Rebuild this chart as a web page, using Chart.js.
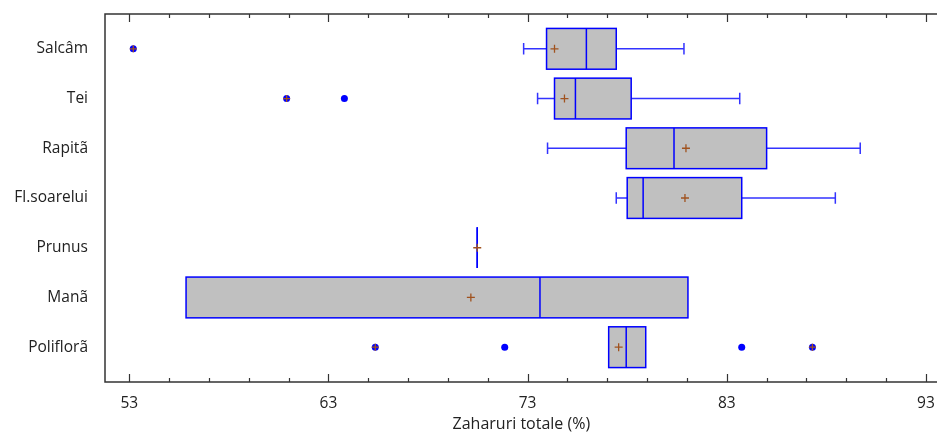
<!DOCTYPE html>
<html>
<head>
<meta charset="utf-8">
<script src="https://cdn.jsdelivr.net/npm/chart.js@4.4.1/dist/chart.umd.min.js"></script>
<style>
html,body{margin:0;padding:0;background:#fff;overflow:hidden;width:937px;height:432px;}
canvas{display:block;}
</style>
</head>
<body>
<canvas id="c" width="943" height="432"></canvas>
<script>
// ---- data ----
const categories = ['Salcâm', 'Tei', 'Rapitã', 'Fl.soarelui', 'Prunus', 'Manã', 'Poliflorã'];
const whiskerLow  = [72.8, 73.5, 74.0, 77.45, 70.47, 55.85, 77.07];
const q1          = [73.95, 74.35, 77.95, 78.0, 70.47, 55.85, 77.07];
const medians     = [75.95, 75.4, 80.35, 78.8, 70.47, 73.62, 77.95];
const q3          = [77.45, 78.2, 85.0, 83.75, 70.47, 81.05, 78.93];
const whiskerHigh = [80.85, 83.65, 89.7, 88.45, 70.47, 81.05, 78.93];
const means       = [74.35, 74.85, 80.95, 80.9, 70.47, 70.15, 77.57];
const outlierCat  = [0, 1, 1, 6, 6, 6, 6];
const outlierVal  = [53.2, 60.9, 63.8, 65.35, 71.85, 83.75, 87.3];
const outlierFar  = [true, true, false, true, false, false, true];
const xTickValues = [53,55,57,59,61,63,65,67,69,71,73,75,77,79,81,83,85,87,89,91,93];
const xMajorTicks = [53, 63, 73, 83, 93];
const xTitle = 'Zaharuri totale (%)';

const FONT = "'Open Sans', 'Noto Sans', sans-serif";
const TEXT = '#222222';
const BLUE = '#0000FF';
const BROWN = '#A0521E';

const meanPts = means.map((v, i) => ({x: v, y: i}));
const outPts = outlierVal.map((v, i) => ({x: v, y: outlierCat[i]}));
const farPts = outlierVal.map((v, i) => ({x: v, y: outlierCat[i]})).filter((p, i) => outlierFar[i]);

const boxPlugin = {
  id: 'boxes',
  beforeDatasetsDraw(chart) {
    const {ctx, scales: {x, y}} = chart;
    ctx.save();
    for (let i = 0; i < categories.length; i++) {
      const yc = y.getPixelForValue(i);
      const yt = y.getPixelForValue(i - 0.41);
      const yb = y.getPixelForValue(i + 0.41);
      const capT = y.getPixelForValue(i - 0.115);
      const capB = y.getPixelForValue(i + 0.115);
      const xl = x.getPixelForValue(q1[i]);
      const xr = x.getPixelForValue(q3[i]);
      const xm = x.getPixelForValue(medians[i]);
      const wl = x.getPixelForValue(whiskerLow[i]);
      const wh = x.getPixelForValue(whiskerHigh[i]);
      ctx.strokeStyle = '#3333FF';
      ctx.lineWidth = 1.5;
      if (wl < xl - 0.5) {
        ctx.beginPath();
        ctx.moveTo(wl, yc); ctx.lineTo(xl, yc);
        ctx.moveTo(wl, capT); ctx.lineTo(wl, capB);
        ctx.stroke();
      }
      if (wh > xr + 0.5) {
        ctx.beginPath();
        ctx.moveTo(xr, yc); ctx.lineTo(wh, yc);
        ctx.moveTo(wh, capT); ctx.lineTo(wh, capB);
        ctx.stroke();
      }
      ctx.fillStyle = '#C0C0C0';
      ctx.fillRect(xl, yt, xr - xl, yb - yt);
      ctx.strokeStyle = BLUE;
      ctx.lineWidth = 1.5;
      ctx.strokeRect(xl, yt, xr - xl, yb - yt);
      ctx.beginPath();
      ctx.moveTo(xm, yt); ctx.lineTo(xm, yb);
      ctx.stroke();
    }
    ctx.restore();
  },
  afterDraw(chart) {
    const {ctx, chartArea: a, scales: {x}} = chart;
    ctx.save();
    ctx.strokeStyle = '#333';
    ctx.lineWidth = 1.5;
    ctx.beginPath();
    ctx.moveTo(a.right + 10, a.top); ctx.lineTo(a.left, a.top);
    ctx.lineTo(a.left, a.bottom); ctx.lineTo(a.right + 10, a.bottom);
    ctx.stroke();
    ctx.lineWidth = 1.2;
    ctx.beginPath();
    xTickValues.forEach(v => {
      const px = Math.round(x.getPixelForValue(v)) + 0.5;
      const len = xMajorTicks.includes(v) ? 8 : 4;
      ctx.moveTo(px, a.top); ctx.lineTo(px, a.top + len);
      ctx.moveTo(px, a.bottom); ctx.lineTo(px, a.bottom - len);
    });
    ctx.stroke();
    ctx.restore();
  }
};

new Chart(document.getElementById('c'), {
  type: 'scatter',
  data: {
    datasets: [
      { label: 'far', data: farPts, pointStyle: 'cross', pointRadius: 3.5, borderColor: BROWN, borderWidth: 1.3, backgroundColor: BROWN },
      { label: 'mean', data: meanPts, pointStyle: 'cross', pointRadius: 4, borderColor: BROWN, borderWidth: 1.3, backgroundColor: BROWN },
      { label: 'outliers', data: outPts, pointStyle: 'circle', pointRadius: 3.5, borderWidth: 0, backgroundColor: BLUE, borderColor: BLUE }
    ]
  },
  options: {
    responsive: false,
    animation: false,
    layout: { padding: { top: 14, right: 0, left: 0, bottom: 0 } },
    plugins: { legend: { display: false }, tooltip: { enabled: false } },
    scales: {
      x: {
        type: 'linear',
        min: 51.78,
        max: 93.59,
        grid: { display: false, drawTicks: false },
        border: { display: false },
        afterBuildTicks: s => { s.ticks = xTickValues.map(v => ({value: v})); },
        afterFit: s => { s.height = 50; s.paddingLeft = 0; s.paddingRight = 0; },
        ticks: {
          autoSkip: false,
          maxRotation: 0,
          padding: 12,
          color: TEXT,
          font: { family: FONT, size: 15.5 },
          callback: v => xMajorTicks.includes(v) ? String(v) : ''
        },
        title: {
          display: true,
          text: xTitle,
          color: TEXT,
          font: { family: FONT, size: 16 },
          padding: { top: 0, bottom: -2 }
        }
      },
      y: {
        type: 'linear',
        reverse: true,
        min: -0.7,
        max: 6.7,
        grid: { display: false, drawTicks: false },
        border: { display: false },
        afterBuildTicks: s => { s.ticks = categories.map((c, i) => ({value: i})); },
        afterFit: s => { s.width = 105; s.paddingTop = 0; s.paddingBottom = 0; },
        ticks: {
          autoSkip: false,
          padding: 17,
          color: TEXT,
          font: { family: FONT, size: 15.5 },
          callback: v => categories[v] ?? ''
        }
      }
    }
  },
  plugins: [boxPlugin]
});
</script>
</body>
</html>
